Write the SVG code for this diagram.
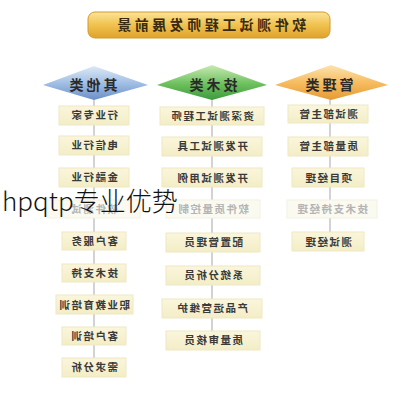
<svg xmlns="http://www.w3.org/2000/svg" width="409" height="400" viewBox="0 0 409 400">
<defs>
<linearGradient id="gold" x1="0" y1="0" x2="0" y2="1">
<stop offset="0" stop-color="#fbe49a"/><stop offset="0.5" stop-color="#f0c24e"/><stop offset="1" stop-color="#dea22c"/>
</linearGradient>
<linearGradient id="blue" x1="0" y1="0" x2="0" y2="1">
<stop offset="0" stop-color="#dce9f7"/><stop offset="0.55" stop-color="#9cbbe2"/><stop offset="1" stop-color="#6a8fc6"/>
</linearGradient>
<linearGradient id="green" x1="0" y1="0" x2="0" y2="1">
<stop offset="0" stop-color="#c9eab4"/><stop offset="0.55" stop-color="#6cc05c"/><stop offset="1" stop-color="#3d9a3e"/>
</linearGradient>
<linearGradient id="orange" x1="0" y1="0" x2="0" y2="1">
<stop offset="0" stop-color="#fde3b0"/><stop offset="0.55" stop-color="#f5b95a"/><stop offset="1" stop-color="#e59a35"/>
</linearGradient>
<linearGradient id="box" x1="0" y1="0" x2="0" y2="1">
<stop offset="0" stop-color="#faf6dc"/><stop offset="1" stop-color="#f3edc6"/>
</linearGradient>
</defs>
<style>
.t{font-family:"Noto Sans CJK SC","Liberation Sans",sans-serif;font-weight:bold;text-anchor:middle;}
.bx{fill:url(#box);stroke:#efe8c4;stroke-width:1;}
.fbx{fill:#fbfaf1;stroke:#f4f1e2;stroke-width:1;}
.bt{font-size:10.5px;fill:#3a3a3a;letter-spacing:1.5px;}
.ft{font-size:10.5px;fill:#b4b4b4;letter-spacing:1.5px;}
.ht{font-size:14px;fill:#2a2a2a;letter-spacing:3px;}
.conn line{stroke:#c4c4c4;stroke-width:1.5;}
</style>
<rect width="409" height="400" fill="#ffffff"/>

<g id="title">
<rect x="88" y="12" width="242" height="26" rx="7" fill="url(#gold)" stroke="#d39a2a" stroke-width="1"/>
<text class="t" transform="translate(210,30) scale(-1,1)" font-size="14" fill="#3a2a10" letter-spacing="3.5">软件测试工程师发展前景</text>
</g>

<g id="connectors" class="conn">
<line x1="94" y1="98" x2="94" y2="362"/>
<line x1="212" y1="98" x2="212" y2="336"/>
<line x1="330" y1="98" x2="330" y2="238"/>
</g>

<g id="h-other">
<polygon points="43,85 94,66 148,85 94,100" fill="url(#blue)"/>
<text class="t ht" transform="translate(92,90) scale(-1,1)">其他类</text>
</g>
<g id="h-tech">
<polygon points="157,85 212,65 267,85 212,100" fill="url(#green)"/>
<text class="t ht" transform="translate(212,90) scale(-1,1)">技术类</text>
</g>
<g id="h-mgmt">
<polygon points="275,85 331,65 388,85 331,100" fill="url(#orange)"/>
<text class="t ht" transform="translate(328,90) scale(-1,1)">管理类</text>
</g>

<g id="o1"><rect class="bx" x="59" y="106" width="70" height="19"/><text class="t bt" transform="translate(94,119) scale(-1,1)">行业专家</text></g>
<g id="o2"><rect class="bx" x="59" y="136" width="70" height="19"/><text class="t bt" transform="translate(94,149) scale(-1,1)">电信行业</text></g>
<g id="o3"><rect class="bx" x="59" y="168" width="70" height="19"/><text class="t bt" transform="translate(94,181) scale(-1,1)">金融行业</text></g>
<g id="o4"><rect class="fbx" x="48" y="200" width="92" height="18"/><text class="t ft" transform="translate(94,213) scale(-1,1)">软件测试</text></g>
<g id="o5"><rect class="bx" x="62" y="232" width="64" height="18"/><text class="t bt" transform="translate(94,245) scale(-1,1)">客户服务</text></g>
<g id="o6"><rect class="bx" x="62" y="264" width="64" height="18"/><text class="t bt" transform="translate(94,277) scale(-1,1)">技术支持</text></g>
<g id="o7"><rect class="bx" x="56" y="295" width="77" height="19"/><text class="t bt" transform="translate(94,309) scale(-1,1)">职业教育培训</text></g>
<g id="o8"><rect class="bx" x="62" y="327" width="64" height="18"/><text class="t bt" transform="translate(94,340) scale(-1,1)">客户培训</text></g>
<g id="o9"><rect class="bx" x="62" y="358" width="64" height="19"/><text class="t bt" transform="translate(94,371) scale(-1,1)">需求分析</text></g>

<g id="t1"><rect class="bx" x="160" y="107" width="104" height="18"/><text class="t bt" transform="translate(212,120) scale(-1,1)">资深测试工程师</text></g>
<g id="t2"><rect class="bx" x="162" y="137" width="100" height="19"/><text class="t bt" transform="translate(212,150) scale(-1,1)">开发测试工具</text></g>
<g id="t3"><rect class="bx" x="162" y="168" width="100" height="19"/><text class="t bt" transform="translate(212,182) scale(-1,1)">开发测试用例</text></g>
<g id="t4"><rect class="fbx" x="166" y="200" width="94" height="18"/><text class="t ft" transform="translate(213,213) scale(-1,1)">软件质量控制</text></g>
<g id="t5"><rect class="bx" x="166" y="233" width="94" height="19"/><text class="t bt" transform="translate(213,246) scale(-1,1)">配置管理员</text></g>
<g id="t6"><rect class="bx" x="166" y="266" width="94" height="19"/><text class="t bt" transform="translate(213,279) scale(-1,1)">系统分析员</text></g>
<g id="t7"><rect class="bx" x="162" y="299" width="100" height="19"/><text class="t bt" transform="translate(212,312) scale(-1,1)">产品运营维护</text></g>
<g id="t8"><rect class="bx" x="166" y="331" width="94" height="19"/><text class="t bt" transform="translate(213,344) scale(-1,1)">质量审核员</text></g>

<g id="m1"><rect class="bx" x="288" y="105" width="80" height="18"/><text class="t bt" transform="translate(328,118) scale(-1,1)">测试部主管</text></g>
<g id="m2"><rect class="bx" x="288" y="137" width="80" height="19"/><text class="t bt" transform="translate(328,150) scale(-1,1)">质量部主管</text></g>
<g id="m3"><rect class="bx" x="292" y="168" width="72" height="19"/><text class="t bt" transform="translate(328,182) scale(-1,1)">项目经理</text></g>
<g id="m4"><rect class="fbx" x="287" y="200" width="90" height="18"/><text class="t ft" transform="translate(332,213) scale(-1,1)">技术支持经理</text></g>
<g id="m5"><rect class="bx" x="292" y="232" width="72" height="19"/><text class="t bt" transform="translate(328,246) scale(-1,1)">测试经理</text></g>

<text x="2" y="211" font-family="'Noto Sans CJK SC','Liberation Sans',sans-serif" font-size="26" font-weight="300" fill="#111111">hpqtp专业优势</text>
</svg>
